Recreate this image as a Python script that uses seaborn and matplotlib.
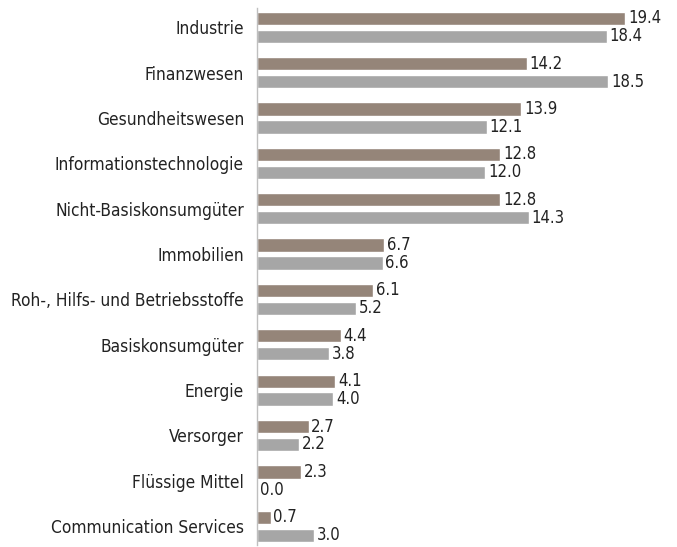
import matplotlib.pyplot as plt
import pandas as pd
import seaborn as sns

sectors = ['Industrie', 'Finanzwesen', 'Gesundheitswesen', 'Informationstechnologie',
           'Nicht-Basiskonsumgüter', 'Immobilien', 'Roh-, Hilfs- und Betriebsstoffe',
           'Basiskonsumgüter', 'Energie', 'Versorger', 'Flüssige Mittel',
           'Communication Services']
fund = [19.4, 14.2, 13.9, 12.8, 12.8, 6.7, 6.1, 4.4, 4.1, 2.7, 2.3, 0.7]
bench = [18.4, 18.5, 12.1, 12.0, 14.3, 6.6, 5.2, 3.8, 4.0, 2.2, 0.0, 3.0]
series = ['Fonds', 'Benchmark']
colors = ['#958579', '#A6A6A6']

df = pd.DataFrame({
    'sector': sectors * 2,
    'value': fund + bench,
    'series': [series[0]] * len(sectors) + [series[1]] * len(sectors),
})

sns.set_style('white')
plt.rcParams['font.family'] = ['Liberation Sans Narrow', 'DejaVu Sans']
plt.rcParams['font.stretch'] = 'condensed'

fig = plt.figure(figsize=(6.77, 5.47), dpi=100)
ax = fig.add_axes([0.38, 0.004, 0.6, 0.981])

sns.barplot(data=df, y='sector', x='value', hue='series', hue_order=series,
            palette=colors, orient='h', width=0.79, gap=0.26, ax=ax,
            legend=False, saturation=1)

for cont in ax.containers:
    ax.bar_label(cont, fmt='%.1f', padding=2, fontsize=12, color='#222222')

ax.set_xlim(0, 21.4)
ax.set_ylim(11.41, -0.42)
ax.set_xlabel('')
ax.set_ylabel('')
ax.set_xticks([])
ax.tick_params(axis='y', length=0, pad=9.5, labelsize=12.4, labelcolor='#222222')
for side in ['top', 'right', 'bottom']:
    ax.spines[side].set_visible(False)
ax.spines['left'].set_color('#BFBFBF')
ax.spines['left'].set_linewidth(1)

fig.savefig('out.png', dpi=100)
